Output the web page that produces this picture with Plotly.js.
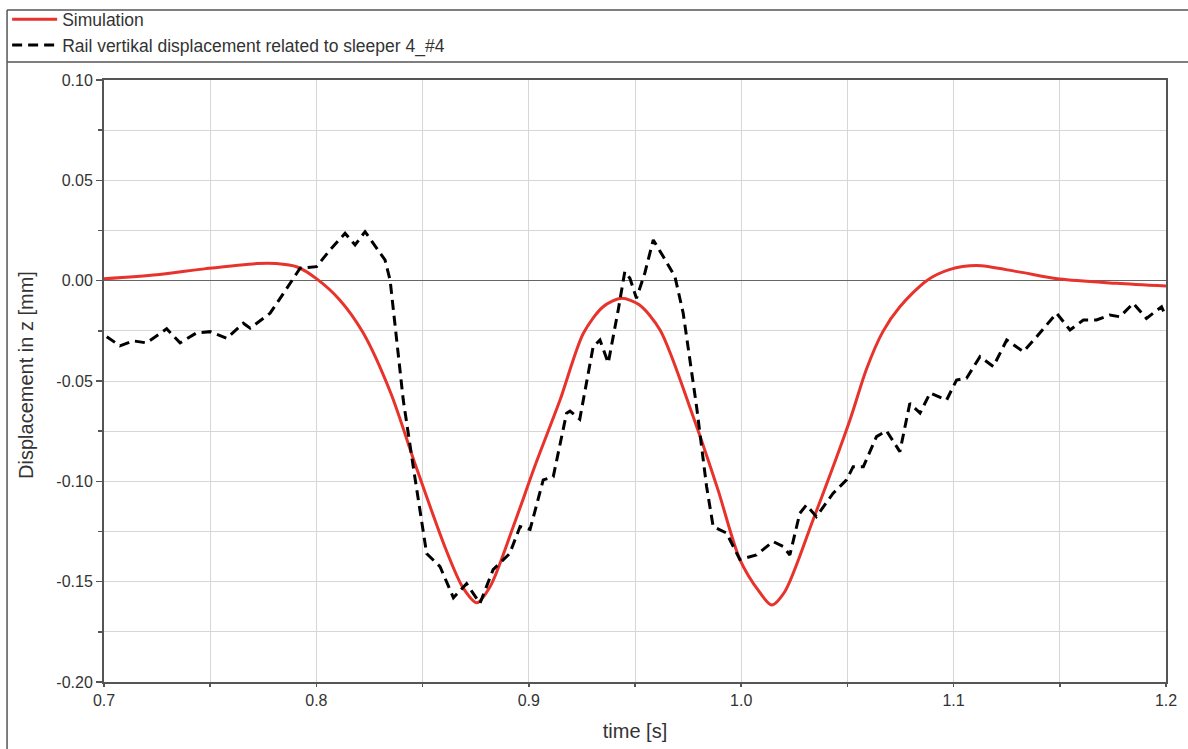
<!DOCTYPE html>
<html>
<head>
<meta charset="utf-8">
<script src="https://cdn.plot.ly/plotly-3.0.1.min.js"></script>
<style>html,body{margin:0;padding:0;background:#fff;}#chart{width:1188px;height:749px;}</style>
</head>
<body>
<div id="chart"></div>
<script>
// Simulation (red)
const simTime = [0.700,0.725,0.748,0.772,0.781,0.791,0.800,0.811,0.822,0.835,0.847,0.861,0.869,0.8755,0.882,0.8927,0.903,0.9147,0.9257,0.935,0.9437,0.952,0.9618,0.9774,0.989,0.9994,1.0085,1.0143,1.0205,1.0339,1.0512,1.059,1.0667,1.0747,1.0873,1.098,1.1108,1.130,1.150,1.1768,1.200];
const simDisp = [0.001,0.003,0.006,0.0085,0.0085,0.0068,0.001,-0.0096,-0.026,-0.056,-0.093,-0.134,-0.153,-0.1605,-0.152,-0.1225,-0.092,-0.0595,-0.0262,-0.013,-0.0088,-0.012,-0.0246,-0.0678,-0.104,-0.139,-0.155,-0.1616,-0.155,-0.119,-0.0694,-0.0440,-0.0254,-0.0130,0.000,0.0055,0.0075,0.0045,0.0008,-0.0013,-0.0027];

// Measured rail vertical displacement (black dashed)
const measTime = [0.7013,0.7075,0.7138,0.720,0.7295,0.7358,0.7436,0.750,0.7578,0.7656,0.7688,0.7782,0.7845,0.7923,0.8001,0.8064,0.8135,0.8182,0.8229,0.8323,0.8347,0.8409,0.8456,0.8519,0.8582,0.8645,0.8707,0.877,0.8832,0.891,0.8959,0.9006,0.9068,0.9115,0.9178,0.9194,0.924,0.9303,0.9335,0.9374,0.9421,0.9452,0.9476,0.9507,0.9546,0.9586,0.9633,0.9688,0.9727,0.979,0.9837,0.9868,0.9931,0.9994,1.0072,1.015,1.0198,1.0229,1.0276,1.0307,1.0354,1.0433,1.0496,1.0527,1.0575,1.0637,1.0684,1.0747,1.0794,1.0842,1.0889,1.0967,1.1014,1.1061,1.1124,1.1187,1.125,1.1329,1.1391,1.1485,1.1548,1.1611,1.1673,1.1736,1.1783,1.1846,1.1908,1.1979,1.200];
const measDisp = [-0.0279,-0.0325,-0.030,-0.031,-0.024,-0.031,-0.026,-0.0254,-0.0287,-0.0212,-0.0237,-0.0162,-0.0063,0.0062,0.007,0.0153,0.0236,0.0178,0.0244,0.0103,0.0003,-0.0595,-0.0927,-0.136,-0.1425,-0.158,-0.151,-0.1608,-0.144,-0.136,-0.1225,-0.124,-0.0993,-0.0977,-0.066,-0.065,-0.069,-0.0329,-0.0296,-0.041,-0.0146,0.0045,0.0012,-0.0088,0.0037,0.0203,0.012,0.002,-0.0162,-0.0628,-0.1026,-0.1225,-0.1258,-0.139,-0.1367,-0.130,-0.1325,-0.1367,-0.1159,-0.1118,-0.1176,-0.1059,-0.0993,-0.0927,-0.0927,-0.0777,-0.0748,-0.0852,-0.0611,-0.066,-0.056,-0.0595,-0.0495,-0.0486,-0.0379,-0.0428,-0.0296,-0.0354,-0.0279,-0.0162,-0.0246,-0.0196,-0.0196,-0.0171,-0.018,-0.0113,-0.0188,-0.013,-0.018];

const seriesNames = ["Simulation", "Rail vertikal displacement related to sleeper 4_#4"];
const yTickVals = [0.10, 0.05, 0.00, -0.05, -0.10, -0.15, -0.20];
const yTickText = ["0.10", "0.05", "0.00", "-0.05", "-0.10", "-0.15", "-0.20"];
const xTickVals = [0.7, 0.8, 0.9, 1.0, 1.1, 1.2];
const xTickText = ["0.7", "0.8", "0.9", "1.0", "1.1", "1.2"];
const xTitle = "time [s]";
const yTitle = "Displacement in z [mm]";

const FONT = "Liberation Sans, Arial, sans-serif";
const axisCol = "#555555";

const traces = [
  {x: simTime, y: simDisp, name: seriesNames[0], mode: "lines",
   line: {color: "#e8322c", width: 3, shape: "spline", smoothing: 0.8}},
  {x: measTime, y: measDisp, name: seriesNames[1], mode: "lines",
   line: {color: "#000000", width: 3, dash: "10px,6px"}}
];

const layout = {
  width: 1188, height: 749,
  margin: {l: 104, r: 22, t: 80, b: 67, autoexpand: false},
  paper_bgcolor: "#ffffff", plot_bgcolor: "#ffffff",
  font: {family: FONT, size: 16, color: "#333333"},
  showlegend: true,
  legend: {xref: "container", yref: "container", x: 0.006, y: 0.998, xanchor: "left", yanchor: "top",
           bgcolor: "rgba(0,0,0,0)", font: {family: FONT, size: 17.5, color: "#333333"},
           tracegroupgap: 0, itemwidth: 45},
  xaxis: {
    range: [0.7, 1.2], tickmode: "array", tickvals: xTickVals, ticktext: xTickText,
    ticks: "outside", ticklen: 3, tickcolor: axisCol, tickwidth: 1.5,
    showline: true, linecolor: axisCol, linewidth: 2, mirror: true,
    showgrid: true, gridcolor: "#d6d6d6", gridwidth: 1, zeroline: false,
    minor: {dtick: 0.05, tick0: 0.7, showgrid: true, gridcolor: "#d6d6d6", gridwidth: 1, ticks: "outside", ticklen: 3, tickcolor: axisCol},
    tickfont: {family: FONT, size: 16, color: "#333333"},
    title: {text: xTitle, font: {family: FONT, size: 20, color: "#333333"}, standoff: 16},
    automargin: true
  },
  yaxis: {
    range: [-0.20, 0.10], tickmode: "array", tickvals: yTickVals, ticktext: yTickText,
    ticks: "outside", ticklen: 6, tickcolor: axisCol, tickwidth: 1.5,
    showline: true, linecolor: axisCol, linewidth: 2, mirror: true,
    showgrid: true, gridcolor: "#d6d6d6", gridwidth: 1,
    zeroline: true, zerolinecolor: "#666666", zerolinewidth: 1.5,
    minor: {dtick: 0.025, tick0: 0, showgrid: true, gridcolor: "#d6d6d6", gridwidth: 1, ticks: "outside", ticklen: 4, tickcolor: axisCol},
    tickfont: {family: FONT, size: 16, color: "#333333"},
    automargin: false
  },
  annotations: [
    {text: yTitle, xref: "paper", yref: "paper", x: -0.0735, y: 0.51, xanchor: "center", yanchor: "middle",
     textangle: -90, showarrow: false, font: {family: FONT, size: 20, color: "#333333"}}
  ],
  shapes: [
    {type: "line", xref: "paper", yref: "paper", x0: -0.0913, x1: 1.03, y0: 1.1163, y1: 1.1163, line: {color: "#555555", width: 1.5}},
    {type: "line", xref: "paper", yref: "paper", x0: -0.0913, x1: 1.03, y0: 1.0299, y1: 1.0299, line: {color: "#555555", width: 1.5}},
    {type: "line", xref: "paper", yref: "paper", x0: -0.0913, x1: -0.0913, y0: 1.1163, y1: -0.12, line: {color: "#555555", width: 1.5}}
  ]
};

Plotly.newPlot("chart", traces, layout, {displayModeBar: false, staticPlot: true});
</script>
</body>
</html>
